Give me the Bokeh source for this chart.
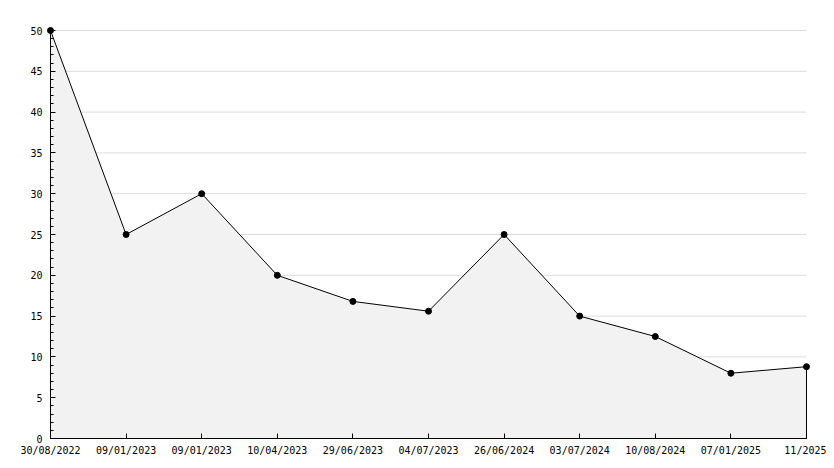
from bokeh.plotting import figure
from bokeh.models import Range1d, FixedTicker, SingleIntervalTicker, LinearAxis
from bokeh.embed import file_html
from bokeh.resources import INLINE

labels = ["30/08/2022", "09/01/2023", "09/01/2023", "10/04/2023", "29/06/2023",
          "04/07/2023", "26/06/2024", "03/07/2024", "10/08/2024", "07/01/2025", "11/2025"]
values = [50, 25, 30, 20, 16.8, 15.6, 25, 15, 12.5, 8, 8.8]
xs = list(range(len(values)))
y_max = 50
y_step = 5
yticks = list(range(0, y_max + y_step, y_step))

FONT = "DejaVu Sans Mono"

# frame a few px larger than the data area so edge markers are not clipped
PAD_PX = 4
DATA_W, DATA_H = 756, 408
x_pad = (len(values) - 1) * PAD_PX / DATA_W
y_pad = y_max * PAD_PX / DATA_H

p = figure(width=826, height=460, output_backend="svg", toolbar_location=None,
           x_range=Range1d(-x_pad, len(values) - 1 + x_pad),
           y_range=Range1d(-y_pad, y_max + y_pad),
           min_border_left=50 - PAD_PX, min_border_right=20 - PAD_PX,
           min_border_top=30 - PAD_PX, min_border_bottom=22 - PAD_PX)
p.outline_line_color = None
p.background_fill_color = "white"

p.xgrid.visible = False
p.ygrid.visible = False
# horizontal grid lines spanning exactly the data area
p.segment(x0=[xs[0]] * len(yticks), y0=yticks, x1=[xs[-1]] * len(yticks), y1=yticks,
          line_color="#dddddd", line_width=1)

# filled area with outline
px = [xs[0]] + xs + [xs[-1]]
py = [0] + values + [0]
p.patch(px, py, fill_color="#f2f2f2", line_color="black", line_width=1)
p.scatter(xs, values, size=6, marker="circle", fill_color="black", line_color="black")

xticker = FixedTicker(ticks=xs)
yticker = SingleIntervalTicker(interval=y_step, num_minor_ticks=5)

# label-only axes at frame edge
p.xaxis.ticker = xticker
p.xaxis.major_label_overrides = {i: l for i, l in enumerate(labels)}
p.yaxis.ticker = yticker
for ax in (p.xaxis[0], p.yaxis[0]):
    ax.axis_line_color = None
    ax.major_tick_line_color = None
    ax.minor_tick_line_color = None
    ax.major_tick_in = 0
    ax.major_tick_out = 0
    ax.minor_tick_in = 0
    ax.minor_tick_out = 0
    ax.major_label_text_font = FONT
    ax.major_label_text_font_size = "10px"
    ax.major_label_text_color = "black"
p.xaxis.major_label_standoff = 6 - PAD_PX
p.yaxis.major_label_standoff = 8 - PAD_PX

# line+tick axes at data origin
ax_x = LinearAxis(ticker=xticker, fixed_location=0, bounds=(xs[0], xs[-1]))
ax_y = LinearAxis(ticker=yticker, fixed_location=xs[0], bounds=(0, y_max))
for ax in (ax_x, ax_y):
    ax.axis_line_color = "black"
    ax.axis_line_width = 1
    ax.major_tick_in = 5
    ax.major_tick_out = 0
    ax.minor_tick_in = 3
    ax.minor_tick_out = 0
    ax.major_tick_line_color = "black"
    ax.minor_tick_line_color = "black"
    ax.major_label_text_color = None
    ax.major_label_standoff = 0
ax_x.minor_tick_line_color = None
p.add_layout(ax_x, "below")
p.add_layout(ax_y, "left")

open("out.html", "w").write(file_html(p, INLINE))
